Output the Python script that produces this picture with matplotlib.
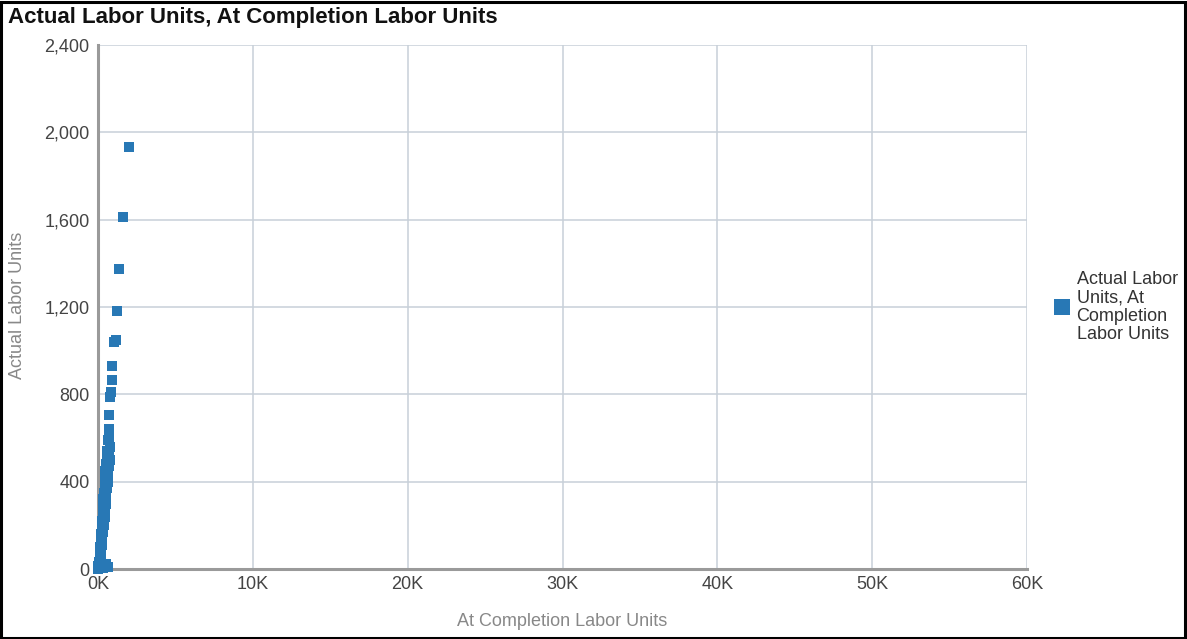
import matplotlib
matplotlib.use("Agg")
import matplotlib.pyplot as plt
from matplotlib.patches import Rectangle
from matplotlib.ticker import FuncFormatter
from matplotlib.lines import Line2D

plt.rcParams['font.family'] = ['Liberation Sans', 'DejaVu Sans']

title = "Actual Labor Units, At Completion Labor Units"
x_label = "At Completion Labor Units"
y_label = "Actual Labor Units"
series_name = "Actual Labor\nUnits, At\nCompletion\nLabor Units"

# At Completion Labor Units (x) vs Actual Labor Units (y)
at_completion = [
    2000, 1620, 1360, 1230, 1150, 1020, 930, 930, 820, 780, 690, 680,
    720, 620, 780, 580, 720, 560, 800, 500, 700, 460, 660, 480, 620,
    420, 580, 390, 540, 350, 500, 330, 460, 310, 420, 270, 380, 240,
    320, 210, 280, 180, 240, 150, 210, 120, 180, 100, 150, 60, 120,
    30, 600, 350, 0, 200, 500, 0, 650, 450,
]
actual = [
    1935, 1610, 1375, 1180, 1048, 1040, 930, 865, 810, 790, 705, 640,
    600, 590, 560, 540, 520, 500, 500, 480, 470, 450, 440, 420, 400,
    390, 370, 350, 340, 320, 300, 290, 270, 250, 240, 220, 200, 190,
    170, 160, 140, 130, 110, 100, 90, 70, 60, 50, 40, 30, 20,
    15, 10, 5, 5, 10, 25, 0, 8, 15,
]

x_ticks = [0, 10000, 20000, 30000, 40000, 50000, 60000]
y_ticks = [0, 400, 800, 1200, 1600, 2000, 2400]

W, H, DPI = 1187, 639, 100
fig = plt.figure(figsize=(W / DPI, H / DPI), dpi=DPI)
ax = fig.add_axes([98 / W, 1 - 569 / H, (1027 - 98) / W, (569 - 45) / H])

point_color = "#2878b5"
ax.plot(at_completion, actual, linestyle="none", marker="s", markersize=7.4,
        color=point_color, markeredgewidth=0, clip_on=False, zorder=3)

ax.set_xlim(0, 60000)
ax.set_ylim(0, 2400)
ax.set_xticks(x_ticks)
ax.set_yticks(y_ticks)
ax.xaxis.set_major_formatter(FuncFormatter(lambda v, p: f"{int(v / 1000)}K"))
ax.yaxis.set_major_formatter(FuncFormatter(lambda v, p: f"{int(v):,}"))

ax.grid(True, color="#c8d0d8", linewidth=1.1, zorder=0)
ax.set_axisbelow(True)
for side in ("top", "right"):
    ax.spines[side].set_visible(False)
for side in ("left", "bottom"):
    ax.spines[side].set_color("#9a9a9a")
    ax.spines[side].set_linewidth(2.2)
    ax.spines[side].set_zorder(2)

ax.tick_params(axis="both", length=0, labelsize=13, colors="#444444")
ax.tick_params(axis="y", pad=6)
ax.tick_params(axis="x", pad=5)

fig.text(8 / W, 1 - 17 / H, title, fontsize=16, fontweight="bold",
         color="#111111", ha="left", va="center")
fig.text(18 / W, 1 - 305 / H, y_label, fontsize=13, color="#888888",
         rotation=90, ha="center", va="center")
fig.text(562 / W, 1 - 622 / H, x_label, fontsize=13, color="#888888",
         ha="center", va="center")

handle = Line2D([], [], linestyle="none", marker="s", markersize=12,
                color=point_color, markeredgewidth=0)
leg = fig.legend([handle], [series_name], loc="center left",
                 bbox_to_anchor=(1054 / W, 1 - 307 / H), frameon=False,
                 fontsize=13, handlelength=0.9, handletextpad=0.35,
                 labelcolor="#333333", borderaxespad=0, borderpad=0)
for t in leg.get_texts():
    t.set_linespacing(1.12)

fig.patches.append(Rectangle((0.001, 0.002), 0.997, 0.995, transform=fig.transFigure,
                             fill=False, edgecolor="black", linewidth=2.2))

fig.savefig("out.png", dpi=DPI)
